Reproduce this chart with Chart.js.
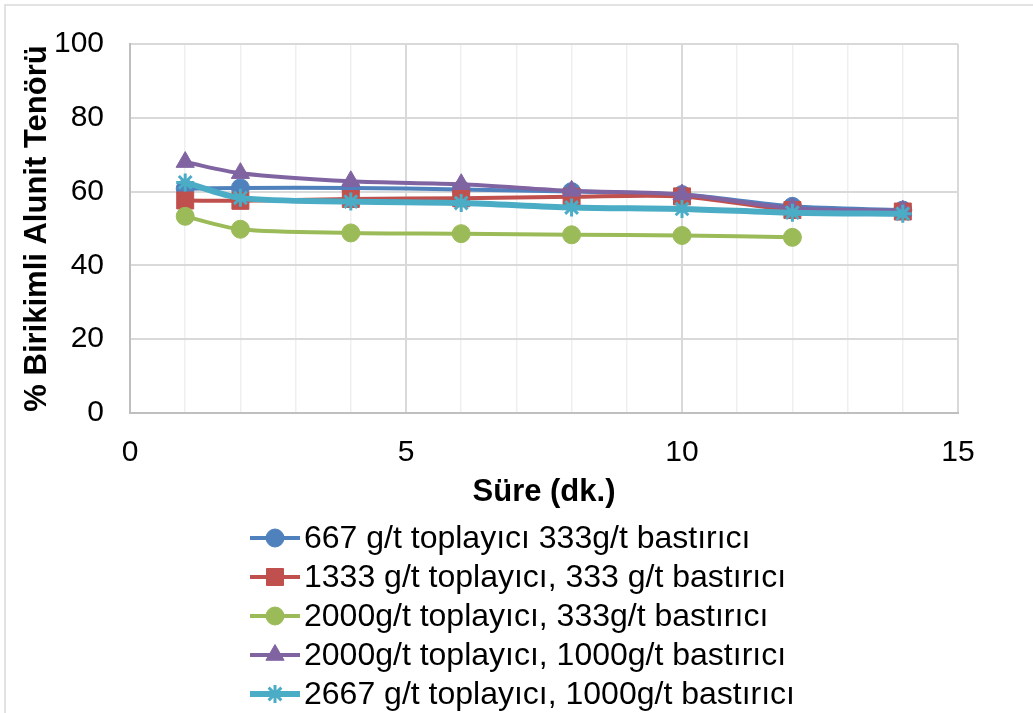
<!DOCTYPE html>
<html>
<head>
<meta charset="utf-8">
<script src="https://cdn.jsdelivr.net/npm/chart.js@4"></script>
<style>
    body { margin: 0; background: #fff; }
    #wrap { width: 1033px; height: 713px; position: relative; }
</style>
</head>
<body>
<div id="wrap"><canvas id="tenorChart" width="1033" height="713"></canvas></div>
<script>
// DATA
const timeMin = [1, 2, 4, 6, 8, 10, 12, 14];
const timeMinGreen = [1, 2, 4, 6, 8, 10, 12];

const seriesNames = [
    '667 g/t toplayıcı 333g/t bastırıcı',
    '1333 g/t toplayıcı, 333 g/t bastırıcı',
    '2000g/t toplayıcı, 333g/t bastırıcı',
    '2000g/t toplayıcı, 1000g/t bastırıcı',
    '2667 g/t toplayıcı, 1000g/t bastırıcı'
];

const grade667 = [60.8, 61, 61, 60.6, 60, 59.2, 56, 55];
const grade1333 = [57.6, 57.5, 58, 58.2, 58.6, 58.7, 55, 54.6];
const grade2000 = [53.3, 49.8, 48.8, 48.6, 48.3, 48.1, 47.6];
const grade2000b = [68, 65, 62.8, 62, 60.2, 59.2, 55.5, 54.8];
const grade2667 = [62.5, 58.3, 57.3, 56.9, 55.7, 55.3, 54.3, 54];

const xTicks = [0, 5, 10, 15];
const yTicks = [0, 20, 40, 60, 80, 100];

const FONT = '"Liberation Sans", Arial, sans-serif';
const TICK_SIZE = 30;
const TITLE_SIZE = 31;
const LEGEND_SIZE = 32;

function toPoints(xs, ys) {
    return ys.map((y, i) => ({ x: xs[i], y: y }));
}

function makeSet(label, xs, ys, color, style, width, radius, order) {
    return {
        label: label,
        data: toPoints(xs, ys),
        borderColor: color,
        backgroundColor: color,
        borderWidth: width,
        pointStyle: style,
        pointRadius: radius,
        pointBorderColor: color,
        pointBackgroundColor: color,
        pointBorderWidth: style === 'star' ? 3 : 1,
        tension: 0.3,
        order: order
    };
}

// outer frame of the picture
const framePlugin = {
    id: 'frame',
    beforeDraw(chart) {
        const ctx = chart.ctx;
        ctx.save();
        ctx.strokeStyle = '#d9d9d9';
        ctx.lineWidth = 1.5;
        ctx.strokeRect(5, 5, chart.width + 10, chart.height + 10);
        ctx.restore();
    }
};

// legend drawn by hand: line + marker, stacked under the x axis
const lineLegend = {
    id: 'lineLegend',
    afterDraw(chart) {
        const ctx = chart.ctx;
        const top = 538, step = 39, x0 = 250, x1 = 300;
        ctx.save();
        chart.data.datasets.forEach((ds, i) => {
            const y = top + i * step;
            ctx.strokeStyle = ds.borderColor;
            ctx.lineWidth = ds.borderWidth;
            ctx.beginPath();
            ctx.moveTo(x0, y);
            ctx.lineTo(x1, y);
            ctx.stroke();

            ctx.fillStyle = ds.pointBackgroundColor;
            ctx.strokeStyle = ds.pointBorderColor;
            ctx.lineWidth = ds.pointBorderWidth;
            Chart.helpers.drawPoint(ctx, {
                pointStyle: ds.pointStyle,
                radius: ds.pointRadius,
                rotation: 0,
                borderWidth: ds.pointBorderWidth
            }, (x0 + x1) / 2, y);

            ctx.fillStyle = '#000';
            ctx.font = LEGEND_SIZE + 'px ' + FONT;
            ctx.textBaseline = 'middle';
            ctx.textAlign = 'left';
            ctx.fillText(ds.label, x1 + 4, y + 1);
        });
        ctx.restore();
    }
};

document.addEventListener('DOMContentLoaded', () => {
    const ctx = document.getElementById('tenorChart').getContext('2d');

    new Chart(ctx, {
        type: 'line',
        data: {
            datasets: [
                makeSet(seriesNames[0], timeMin, grade667, '#4f81bd', 'circle', 4, 9, 4),
                makeSet(seriesNames[1], timeMin, grade1333, '#c0504d', 'rect', 4, 12, 3),
                makeSet(seriesNames[2], timeMinGreen, grade2000, '#9bbb59', 'circle', 4, 9, 2),
                makeSet(seriesNames[3], timeMin, grade2000b, '#8064a2', 'triangle', 4, 10.5, 1),
                makeSet(seriesNames[4], timeMin, grade2667, '#4bacc6', 'star', 6, 9, 0)
            ]
        },
        options: {
            responsive: false,
            animation: false,
            layout: { padding: { left: 14, right: 75, top: 38, bottom: 200 } },
            plugins: {
                legend: { display: false },
                tooltip: { enabled: false }
            },
            scales: {
                x: {
                    type: 'linear',
                    min: 0,
                    max: 15,
                    afterFit: (axis) => { axis.height = 100; },
                    border: { display: true, color: '#bfbfbf', width: 2 },
                    grid: {
                        drawTicks: false,
                        color: (c) => (c.tick && c.tick.value % 5 === 0) ? '#d9d9d9' : '#efefef',
                        lineWidth: (c) => (c.tick && c.tick.value % 5 === 0) ? 2 : 1.5
                    },
                    afterBuildTicks: (axis) => {
                        axis.ticks = [];
                        for (let v = 0; v <= 15; v++) axis.ticks.push({ value: v });
                    },
                    ticks: {
                        color: '#000',
                        font: { family: FONT, size: TICK_SIZE },
                        padding: 22,
                        maxRotation: 0,
                        autoSkip: false,
                        callback: (v) => xTicks.includes(v) ? String(v) : ''
                    },
                    title: {
                        display: true,
                        text: 'Süre (dk.)',
                        color: '#000',
                        font: { family: FONT, size: TITLE_SIZE, weight: 'bold' },
                        padding: { top: 0, bottom: 2 }
                    }
                },
                y: {
                    min: 0,
                    max: 100,
                    afterFit: (axis) => { axis.width = 116; },
                    border: { display: true, color: '#bfbfbf', width: 2 },
                    grid: { drawTicks: false, color: '#d9d9d9', lineWidth: 2 },
                    afterBuildTicks: (axis) => {
                        axis.ticks = yTicks.map(v => ({ value: v }));
                    },
                    ticks: {
                        color: '#000',
                        font: { family: FONT, size: TICK_SIZE },
                        padding: 26
                    },
                    title: {
                        display: true,
                        text: '% Birikimli Alunit Tenörü',
                        color: '#000',
                        font: { family: FONT, size: TITLE_SIZE, weight: 'bold' },
                        padding: { top: 5, bottom: 0 }
                    }
                }
            }
        },
        plugins: [framePlugin, lineLegend]
    });
});
</script>
</body>
</html>
